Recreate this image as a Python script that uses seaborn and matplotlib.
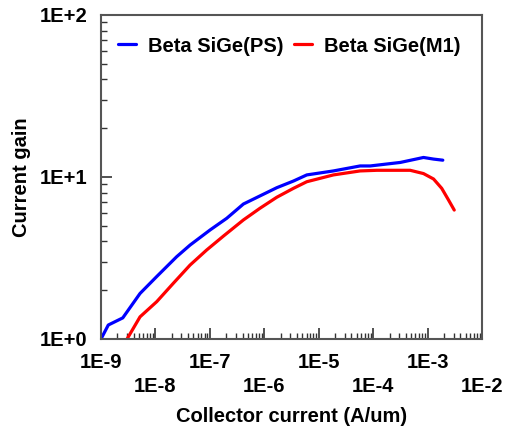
import numpy as np
import pandas as pd
import matplotlib
matplotlib.use("Agg")
import matplotlib.pyplot as plt
import matplotlib.ticker as mticker
import seaborn as sns

# Data (log10 of collector current, current gain)
ps_logx = [-9.0, -8.866, -8.60, -8.283, -7.976, -7.61, -7.364, -6.996, -6.69, -6.384,
           -6.08, -5.77, -5.465, -5.219, -4.73, -4.24, -4.055, -3.50, -3.075, -2.89, -2.72]
ps_gain = [1.0, 1.22, 1.35, 1.91, 2.43, 3.22, 3.80, 4.71, 5.56, 6.81,
           7.64, 8.59, 9.44, 10.3, 10.9, 11.7, 11.7, 12.3, 13.2, 12.9, 12.7]

m1_logx = [-8.56, -8.283, -7.976, -7.67, -7.364, -7.06, -6.75, -6.384, -6.08, -5.77,
           -5.465, -5.219, -4.73, -4.24, -3.93, -3.32, -3.075, -2.89, -2.74, -2.615, -2.51]
m1_gain = [0.95, 1.37, 1.70, 2.21, 2.86, 3.54, 4.32, 5.43, 6.41, 7.50,
           8.51, 9.35, 10.3, 10.9, 11.0, 11.0, 10.5, 9.72, 8.51, 7.21, 6.25]

series_names = ["Beta SiGe(PS)", "Beta SiGe(M1)"]
series_colors = ["#0000FF", "#FF0000"]

x_ticks = [1e-9, 1e-8, 1e-7, 1e-6, 1e-5, 1e-4, 1e-3, 1e-2]
x_labels = ["1E-9", "1E-8", "1E-7", "1E-6", "1E-5", "1E-4", "1E-3", "1E-2"]
y_ticks = [1, 10, 100]
y_labels = ["1E+0", "1E+1", "1E+2"]

df = pd.concat([
    pd.DataFrame({"current": 10 ** np.array(ps_logx), "gain": ps_gain, "series": series_names[0]}),
    pd.DataFrame({"current": 10 ** np.array(m1_logx), "gain": m1_gain, "series": series_names[1]}),
], ignore_index=True)

sns.set_style("white")
plt.rcParams["font.family"] = ["Liberation Sans", "DejaVu Sans"]
plt.rcParams["font.weight"] = "bold"
plt.rcParams["text.color"] = "black"
plt.rcParams["axes.labelcolor"] = "black"
plt.rcParams["xtick.color"] = "black"
plt.rcParams["ytick.color"] = "black"

fig = plt.figure(figsize=(5.12, 4.28), dpi=100)
ax = fig.add_axes([101 / 512, 1 - 339 / 428, 381 / 512, 324 / 428])

sns.lineplot(data=df, x="current", y="gain", hue="series", palette=series_colors,
             hue_order=series_names, sort=False, estimator=None, linewidth=2.3, ax=ax)

ax.set_xscale("log")
ax.set_yscale("log")
ax.set_xlim(1e-9, 1e-2)
ax.set_ylim(1, 100)

FS = 14.5
ax.set_xticks(x_ticks)
ax.set_xticklabels(x_labels, fontsize=FS, fontweight="bold", color="black")
ax.set_yticks(y_ticks)
ax.set_yticklabels(y_labels, fontsize=FS, fontweight="bold", color="black")
ax.xaxis.set_minor_locator(mticker.LogLocator(base=10, subs=np.arange(2, 10)))
ax.yaxis.set_minor_locator(mticker.LogLocator(base=10, subs=np.arange(2, 10)))
ax.xaxis.set_minor_formatter(mticker.NullFormatter())
ax.yaxis.set_minor_formatter(mticker.NullFormatter())

ax.tick_params(which="major", direction="in", length=8, width=1.2, color="#333333",
               top=False, right=False, bottom=True, left=True)
ax.tick_params(which="minor", direction="in", length=4.5, width=1.0, color="#333333",
               top=False, right=False, bottom=True, left=True)
ax.tick_params(axis="y", which="major", pad=9.5)
for i, t in enumerate(ax.xaxis.get_major_ticks()):
    t.set_pad(10 if i % 2 == 0 else 27)

for sp in ax.spines.values():
    sp.set_color("#555555")
    sp.set_linewidth(1.5)
    sp.set_visible(True)

ax.set_xlabel("Collector current (A/um)", fontsize=FS, fontweight="bold", color="black")
ax.set_ylabel("Current gain", fontsize=FS, fontweight="bold", color="black")
ax.xaxis.set_label_coords(0.5, (339 - 417) / 324)
ax.xaxis.label.set_va("center")
ax.yaxis.set_label_coords((22 - 101) / 381, 0.5)
ax.yaxis.label.set_va("center")

leg = ax.legend(loc="center left", bbox_to_anchor=(17 / 381, 1 - 31 / 324), ncol=2, frameon=False,
                borderaxespad=0, borderpad=0,
                handlelength=0.9, handletextpad=0.6, columnspacing=0.5,
                prop={"size": FS, "weight": "bold"})
for line in leg.get_lines():
    line.set_linewidth(2.3)
for txt in leg.get_texts():
    txt.set_color("black")

fig.savefig("out.png", dpi=100)
